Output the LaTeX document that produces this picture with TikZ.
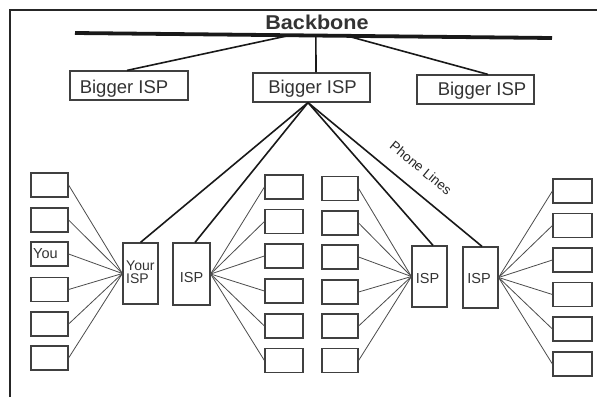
\documentclass[tikz,border=0pt]{standalone}
\usepackage{fontspec}
\setmainfont{Liberation Sans}
\usetikzlibrary{calc}
\begin{document}
\begin{tikzpicture}[x=1pt,y=-1pt,
  box/.style={draw=black!75,line width=1.2pt,inner sep=0pt,rectangle},
  fan/.style={draw=black!70,line width=0.8pt},
  phone/.style={draw=black!90,line width=1.6pt},
  uplink/.style={draw=black!90,line width=1.6pt},
  lbl/.style={text=black!80,inner sep=0pt,anchor=base},
]
\useasboundingbox (0,0) rectangle (600,397);
\fill[white] (0,0) rectangle (600,397);
% frame
\draw[line width=1.6pt,black!85] (10,397) -- (10,10) -- (597,10);
% backbone
\coordinate (bbL) at (75,33);
\coordinate (bbR) at (552,38);
\draw[line width=3.8pt,black!90] (bbL) -- (bbR);
\node[lbl,font=\bfseries\fontsize{20}{24}\selectfont,xscale=1.08] (bbt) at (317,29) {Backbone};
\coordinate (b1) at ($(bbL)!0.451!(bbR)$);
\coordinate (b2) at ($(bbL)!0.505!(bbR)$);
\coordinate (b3) at ($(bbL)!0.570!(bbR)$);
% bigger ISPs
\node[box,minimum width=118pt,minimum height=29pt] (big1) at (129,85.5) {};
\node[box,minimum width=117pt,minimum height=29pt] (big2) at (311.5,87.5) {};
\node[box,minimum width=117pt,minimum height=29pt] (big3) at (475.5,89.5) {};
\node[lbl,font=\fontsize{18.5}{22}\selectfont] (t1) at (124,93) {Bigger ISP};
\node[lbl,font=\fontsize{18.5}{22}\selectfont] (t2) at (312.5,93) {Bigger ISP};
\node[lbl,font=\fontsize{18.5}{22}\selectfont] (t3) at (482,95) {Bigger ISP};
\draw[uplink] (b1) -- ($(big1.north)+(-2,0)$);
\draw[uplink] (b2) -- ($(big2.north)+(4.5,0)$);
\draw[uplink] (b3) -- ($(big3.north)+(12.5,0)$);
% ISPs
\node[box,minimum width=35pt,minimum height=61pt] (yisp) at (140.5,273.5) {};
\node[box,minimum width=37pt,minimum height=62pt] (isp2) at (191.5,274) {};
\node[box,minimum width=35pt,minimum height=61pt] (isp3) at (429.5,276.5) {};
\node[box,minimum width=35pt,minimum height=61pt] (isp4) at (480.5,277.5) {};
\node[lbl,anchor=base west,font=\fontsize{14}{13}\selectfont] (ty1) at (126,270) {Your};
\node[lbl,anchor=base west,font=\fontsize{14}{13}\selectfont] (ty2) at (126,283) {ISP};
\node[lbl,font=\fontsize{14.5}{16}\selectfont] (ti2) at (191.5,282) {ISP};
\node[lbl,font=\fontsize{14.5}{16}\selectfont] (ti3) at (427.5,283) {ISP};
\node[lbl,font=\fontsize{14.5}{16}\selectfont] (ti4) at (479,283) {ISP};
% phone lines
\coordinate (apex) at ($(big2.south)+(-3.5,0)$);
\draw[phone] (apex) -- (yisp.north);
\draw[phone] (apex) -- ($(isp2.north)+(3.5,0)$);
\draw[phone] (apex) -- ($(isp3.north)+(3.5,0)$);
\draw[phone] (apex) -- ($(isp4.north)+(1.5,0)$);
\node[lbl,anchor=center,rotate=-39.5,font=\fontsize{13.5}{16}\selectfont,text=black!85] (pl) at (421,168) {Phone Lines};
% column 1
\foreach \i/\y in {1/185,2/220,3/254,4/289.5,5/324,6/358}{
  \node[box,minimum width=37pt,minimum height=24pt] (a\i) at (49.5,\y) {};
  \draw[fan] (a\i.east) -- (yisp.west);
}
\node[lbl,anchor=base west,font=\fontsize{14.5}{16}\selectfont] (you) at (33,258) {You};
% column 2
\foreach \i/\y in {1/187,2/221.5,3/256,4/291,5/326,6/360.5}{
  \node[box,minimum width=38pt,minimum height=24pt] (c\i) at (284,\y) {};
  \draw[fan] (isp2.east) -- (c\i.west);
}
% column 3
\foreach \i/\y in {1/188.5,2/223,3/257,4/292,5/326,6/360.5}{
  \node[box,minimum width=36pt,minimum height=24pt] (d\i) at (340,\y) {};
  \draw[fan] (d\i.east) -- (isp3.west);
}
% column 5
\foreach \i/\y in {1/191,2/225.5,3/260,4/294.5,5/329,6/364}{
  \node[box,minimum width=39pt,minimum height=24pt] (e\i) at (572.5,\y) {};
  \draw[fan] (isp4.east) -- (e\i.west);
}
\end{tikzpicture}
\end{document}
